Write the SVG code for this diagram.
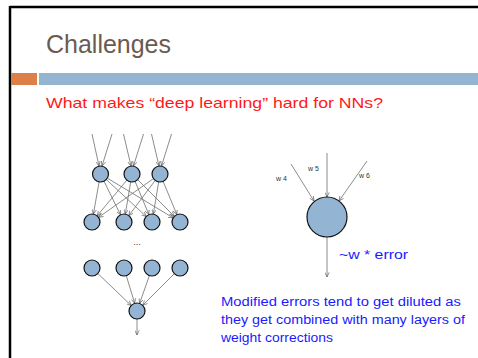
<svg xmlns="http://www.w3.org/2000/svg" width="478" height="358" viewBox="0 0 478 358">
<defs>
<marker id="ah" viewBox="0 0 8 8" refX="7.5" refY="4" markerWidth="5" markerHeight="5" orient="auto" markerUnits="userSpaceOnUse">
<path d="M0,0.5 L7.5,4 L0,7.5" fill="none" stroke="#555" stroke-width="1"/>
</marker>
<style>
.n{fill:#94b4d4;stroke:#111;stroke-width:1.2}
.c line{stroke:#6e6e6e;stroke-width:0.8;marker-end:url(#ah)}
.t{font-family:"Liberation Sans","DejaVu Sans",sans-serif}
.w{font-family:"Liberation Sans",sans-serif;font-size:7px;fill:#333}
.b{font-family:"Liberation Sans",sans-serif;font-size:12.5px;fill:#1a1aff}
</style>
</defs>
<rect width="478" height="358" fill="#fff"/>
<line x1="10" y1="7" x2="478" y2="7" stroke="#000" stroke-width="2.5"/>
<line x1="10" y1="6" x2="10" y2="358" stroke="#000" stroke-width="2.5"/>
<rect x="11" y="73" width="26" height="12" fill="#dd8047"/>
<rect x="39" y="73" width="439" height="12" fill="#93b5d1"/>
<text class="t" x="46" y="53" font-size="25" fill="#6b5a50" textLength="125" lengthAdjust="spacingAndGlyphs">Challenges</text>
<text class="t" x="46" y="108" font-size="15" fill="#ff1a1a" textLength="337" lengthAdjust="spacingAndGlyphs">What makes “deep learning” hard for NNs?</text>
<g id="connectors" class="c">
<line x1="92" y1="134" x2="99" y2="166"/>
<line x1="112" y1="134" x2="102" y2="166"/>
<line x1="123.5" y1="134" x2="131" y2="166"/>
<line x1="143.5" y1="134" x2="133.5" y2="166"/>
<line x1="151.5" y1="134" x2="159" y2="166"/>
<line x1="171.5" y1="134" x2="161.5" y2="166"/>
<line x1="99.1" y1="181.9" x2="93.4" y2="214.1"/>
<line x1="104" y1="181.2" x2="120.5" y2="214.8"/>
<line x1="106.3" y1="179.5" x2="146.2" y2="216.5"/>
<line x1="107.3" y1="178.1" x2="173.2" y2="217.9"/>
<line x1="126.9" y1="180.1" x2="97.1" y2="215.9"/>
<line x1="130.7" y1="181.9" x2="125.3" y2="214.1"/>
<line x1="135.1" y1="181.4" x2="148.9" y2="214.6"/>
<line x1="137.7" y1="179.7" x2="174.3" y2="216.3"/>
<line x1="153.5" y1="178.6" x2="98.5" y2="217.4"/>
<line x1="155.2" y1="180.4" x2="128.8" y2="215.6"/>
<line x1="158.7" y1="181.9" x2="153.3" y2="214.1"/>
<line x1="163.1" y1="181.4" x2="176.9" y2="214.6"/>
<line x1="97.8" y1="273.5" x2="131.2" y2="305.5"/>
<line x1="126.3" y1="275.7" x2="134.7" y2="303.3"/>
<line x1="149.4" y1="275.6" x2="139.6" y2="303.4"/>
<line x1="174.3" y1="273.7" x2="142.7" y2="305.3"/>
<line x1="137" y1="319" x2="137" y2="335"/>
<line x1="327" y1="153" x2="327" y2="197"/>
<line x1="291" y1="164" x2="314" y2="201"/>
<line x1="367" y1="161" x2="339" y2="201"/>
<line x1="327" y1="237" x2="327" y2="277"/>
</g>
<g id="a1"><circle class="n" cx="100.5" cy="174" r="8"/></g>
<g id="a2"><circle class="n" cx="132" cy="174" r="8"/></g>
<g id="a3"><circle class="n" cx="160" cy="174" r="8"/></g>
<g id="b1"><circle class="n" cx="92" cy="222" r="8"/></g>
<g id="b2"><circle class="n" cx="124" cy="222" r="8"/></g>
<g id="b3"><circle class="n" cx="152" cy="222" r="8"/></g>
<g id="b4"><circle class="n" cx="180" cy="222" r="8"/></g>
<text class="t" x="137" y="245" font-size="9" fill="#333" text-anchor="middle">...</text>
<g id="c1"><circle class="n" cx="92" cy="268" r="8"/></g>
<g id="c2"><circle class="n" cx="124" cy="268" r="8"/></g>
<g id="c3"><circle class="n" cx="152" cy="268" r="8"/></g>
<g id="c4"><circle class="n" cx="180" cy="268" r="8"/></g>
<g id="d"><circle class="n" cx="137" cy="311" r="8"/></g>
<g id="big"><circle class="n" cx="327" cy="217" r="20"/></g>
<text class="w" x="276" y="181">w 4</text>
<text class="w" x="308" y="171">w 5</text>
<text class="w" x="359" y="178">w 6</text>
<text class="b" x="339" y="259" textLength="69" lengthAdjust="spacingAndGlyphs">~w * error</text>
<text class="b" x="221" y="306" textLength="240" lengthAdjust="spacingAndGlyphs">Modified errors tend to get diluted as</text>
<text class="b" x="221" y="324" textLength="244" lengthAdjust="spacingAndGlyphs">they get combined with many layers of</text>
<text class="b" x="221" y="342" textLength="112" lengthAdjust="spacingAndGlyphs">weight corrections</text>
</svg>
